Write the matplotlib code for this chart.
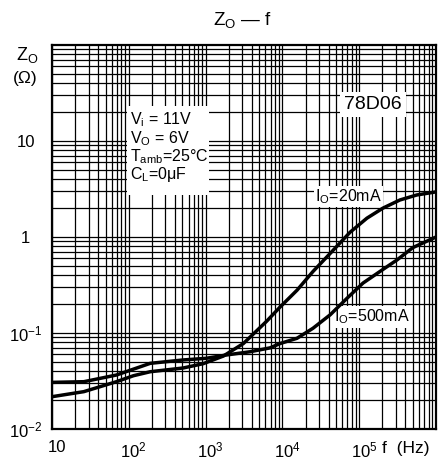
import numpy as np
import matplotlib
matplotlib.use('Agg')
import matplotlib.pyplot as plt
from matplotlib.ticker import LogLocator, NullFormatter
from matplotlib.transforms import ScaledTranslation
from matplotlib.patches import Rectangle

plt.rcParams['font.family'] = ['Liberation Sans', 'DejaVu Sans']
plt.rcParams['mathtext.fontset'] = 'custom'
plt.rcParams['mathtext.rm'] = 'Liberation Sans'
plt.rcParams['mathtext.it'] = 'Liberation Sans'

# 读图得到的数据
f_20mA = [10, 26, 69, 115, 190, 510, 930, 1700, 3100, 6200, 9300, 15500,
          25000, 42000, 76000, 126000, 204000, 339000, 562000, 1000000]
z_20mA = [0.0217, 0.0245, 0.0311, 0.0359, 0.0395, 0.0432, 0.0479, 0.0575,
          0.0776, 0.132, 0.186, 0.279, 0.437, 0.676, 1.12, 1.57, 2.0, 2.43,
          2.74, 2.95]

f_500mA = [10, 26, 69, 190, 510, 1020, 1860, 3800, 6900, 9300, 15500, 25000,
           42000, 69000, 112000, 186000, 309000, 500000, 1000000]
z_500mA = [0.0306, 0.0311, 0.0365, 0.0483, 0.0524, 0.0545, 0.0590, 0.0638,
           0.0700, 0.0776, 0.0881, 0.112, 0.155, 0.229, 0.331, 0.437, 0.575,
           0.776, 1.0]

x_ticks = [10, 1e2, 1e3, 1e4, 1e5]
x_labels = ['10', '$10^2$', '$10^3$', '$10^4$', '$10^5$']
y_ticks = [1e-2, 1e-1, 1, 10]
y_labels = ['$10^{-2}$', '$10^{-1}$', '1', '10']

cond_lines = [r'$\mathrm{V_i}$ = 11V', r'$\mathrm{V_O}$ = 6V',
              r'T$_{\mathrm{amb}}$=25°C', r'$\mathrm{C_L}$=0μF']

fig = plt.figure(figsize=(4.41, 4.66), dpi=100)
W, H = 441, 466
ax = fig.add_axes([52 / W, 37 / H, 384 / W, 384 / H])

ax.set_xscale('log')
ax.set_yscale('log')
ax.set_xlim(10, 1e6)
ax.set_ylim(1e-2, 1e2)

ax.xaxis.set_minor_locator(LogLocator(base=10, subs=np.arange(2, 10)))
ax.yaxis.set_minor_locator(LogLocator(base=10, subs=np.arange(2, 10)))
ax.xaxis.set_minor_formatter(NullFormatter())
ax.yaxis.set_minor_formatter(NullFormatter())
ax.grid(True, which='both', color='black', linewidth=0.9)
ax.set_axisbelow(True)

ax.set_xticks(x_ticks)
ax.set_xticklabels(x_labels)
ax.set_yticks(y_ticks)
ax.set_yticklabels(y_labels)
ax.tick_params(which='both', length=0, labelsize=12)
ax.tick_params(axis='x', pad=8)
ax.tick_params(axis='y', pad=19)
for lbl in ax.get_yticklabels():
    lbl.set_ha('center')
off = ScaledTranslation(5 / 100, 0, fig.dpi_scale_trans)
for lbl in ax.get_xticklabels():
    lbl.set_transform(lbl.get_transform() + off)

for s in ax.spines.values():
    s.set_linewidth(1.6)

ax.plot(f_20mA, z_20mA, color='black', linewidth=2.5, solid_joinstyle='round',
        solid_capstyle='butt', zorder=4)
ax.plot(f_500mA, z_500mA, color='black', linewidth=2.5, solid_joinstyle='round',
        solid_capstyle='butt', zorder=4)

# 条件说明框
ax.add_patch(Rectangle((0.195, 0.61), 0.215, 0.23, transform=ax.transAxes,
                       facecolor='white', edgecolor='none', zorder=3))
for yb, s in zip([0.794, 0.745, 0.698, 0.651], cond_lines):
    ax.text(0.203, yb, s, transform=ax.transAxes, fontsize=11.5,
            va='baseline', ha='left', zorder=5)

ax.text(0.836, 0.846, '78D06', transform=ax.transAxes, fontsize=14,
        ha='center', va='center', zorder=5,
        bbox=dict(facecolor='white', edgecolor='none', pad=3))
ax.text(0.772, 0.606, r'$\mathrm{I_O}$=20mA', transform=ax.transAxes,
        fontsize=11.5, ha='center', va='center', zorder=3.5,
        bbox=dict(facecolor='white', edgecolor='none', pad=1))
ax.text(0.833, 0.292, r'$\mathrm{I_O}$=500mA', transform=ax.transAxes,
        fontsize=11.5, ha='center', va='center', zorder=3.5,
        bbox=dict(facecolor='white', edgecolor='none', pad=1))

fig.text(242 / W, 1 - 20 / H, r'$\mathrm{Z_O}$ — f', fontsize=13.5,
         ha='center', va='center')
fig.text(27 / W, 1 - 55 / H, r'$\mathrm{Z_O}$', fontsize=13,
         ha='center', va='center')
fig.text(25 / W, 1 - 78 / H, '(Ω)', fontsize=12.5, ha='center', va='center')
fig.text(406 / W, 1 - 448 / H, 'f  (Hz)', fontsize=12.5, ha='center',
         va='center')

fig.savefig('out.png', dpi=100)
